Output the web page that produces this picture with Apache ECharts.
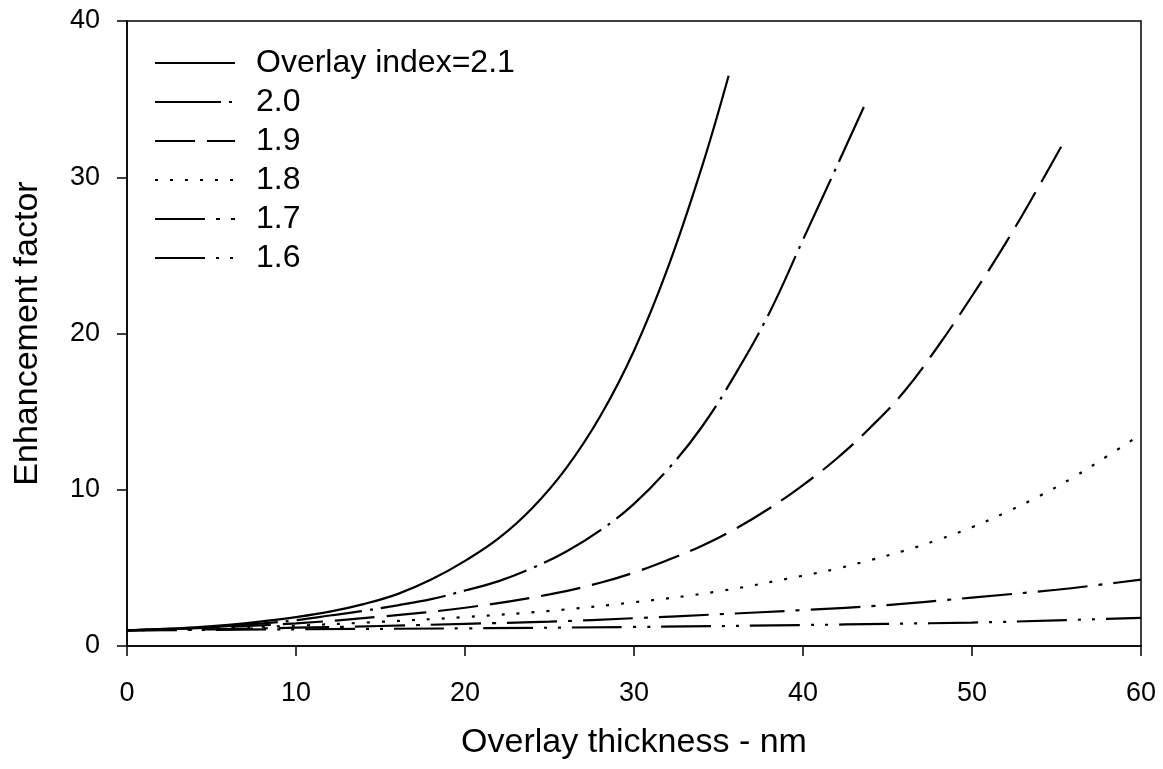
<!DOCTYPE html>
<html>
<head>
<meta charset="utf-8">
<script src="https://cdn.jsdelivr.net/npm/echarts@6/dist/echarts.min.js"></script>
<style>
html,body{margin:0;padding:0;background:#fff;}
#chart{width:1163px;height:769px;}
</style>
</head>
<body>
<div id="chart"></div>
<script>
// ---- data ----
const seriesNames = ['Overlay index=2.1', '2.0', '1.9', '1.8', '1.7', '1.6'];

const x21 = [0, 2, 4, 6, 8, 10, 12, 14, 16, 18, 20, 22, 24, 26, 28, 30, 32, 34, 35.6];
const y21 = [1.0, 1.09, 1.2, 1.36, 1.58, 1.85, 2.2, 2.68, 3.32, 4.25, 5.45, 6.9, 8.85, 11.4, 14.7, 18.9, 24.2, 30.6, 36.5];

const x20 = [0, 4, 8, 10, 12, 14, 16, 18, 20, 22, 24, 26, 28, 30, 32, 34, 36, 38, 40, 42, 43.6];
const y20 = [1.0, 1.15, 1.45, 1.65, 1.95, 2.25, 2.6, 3.0, 3.55, 4.15, 5.0, 6.05, 7.4, 9.1, 11.3, 14.0, 17.4, 21.3, 26.0, 30.7, 34.5];

const x19 = [0, 5, 10, 15, 20, 25, 28, 30, 32, 34, 36, 38, 40, 42, 44, 46, 48, 50, 52, 54, 55.3];
const y19 = [1.0, 1.18, 1.45, 1.88, 2.45, 3.3, 4.05, 4.7, 5.5, 6.4, 7.5, 8.8, 10.3, 12.0, 14.0, 16.3, 19.2, 22.4, 25.8, 29.5, 32.0];

const x18 = [0, 5, 10, 15, 20, 25, 30, 35, 40, 42, 44, 46, 48, 50, 52, 54, 56, 58, 59.5];
const y18 = [1.0, 1.12, 1.3, 1.55, 1.85, 2.25, 2.8, 3.5, 4.5, 4.95, 5.5, 6.1, 6.8, 7.6, 8.55, 9.6, 10.8, 12.15, 13.2];

const x17 = [0, 5, 10, 15, 20, 25, 30, 35, 40, 45, 50, 55, 58, 60];
const y17 = [1.0, 1.07, 1.17, 1.28, 1.42, 1.56, 1.78, 2.03, 2.3, 2.62, 3.1, 3.6, 3.98, 4.25];

const x16 = [0, 10, 20, 30, 40, 45, 50, 55, 60];
const y16 = [1.0, 1.07, 1.13, 1.22, 1.34, 1.42, 1.5, 1.64, 1.8];

const xTicks = [0, 10, 20, 30, 40, 50, 60];
const yTicks = [0, 10, 20, 30, 40];

// ---- styling ----
const dashes = [
  'solid',
  [66, 8, 3, 8],
  [40, 12],
  [3, 12],
  [50, 11, 4, 11],
  [50, 11, 3, 11, 3, 11]
];
const xs = [x21, x20, x19, x18, x17, x16];
const ys = [y21, y20, y19, y18, y17, y16];

function zip(a, b) { return a.map((v, i) => [v, b[i]]); }

const FONT = '"Liberation Sans", Arial, sans-serif';

const series = seriesNames.map((name, i) => ({
  name: name,
  type: 'line',
  data: zip(xs[i], ys[i]),
  showSymbol: false,
  symbol: 'none',
  smooth: 0.4,
  lineStyle: { color: '#000', width: 2.2, type: dashes[i], cap: 'butt' },
  itemStyle: { color: '#000' },
  emphasis: { disabled: true },
  silent: true,
  animation: false
}));

const chart = echarts.init(document.getElementById('chart'), null, { renderer: 'canvas' });
chart.setOption({
  backgroundColor: '#fff',
  animation: false,
  textStyle: { fontFamily: FONT, color: '#000' },
  grid: {
    left: 127, right: 22, top: 21, bottom: 123,
    show: true, borderColor: '#000', borderWidth: 1.5, backgroundColor: 'transparent'
  },
  legend: {
    orient: 'vertical',
    left: 149, top: 42,
    itemWidth: 80, itemHeight: 14, itemGap: 7,
    selectedMode: false,
    data: seriesNames,
    itemStyle: { color: 'rgba(0,0,0,0)', borderWidth: 0, opacity: 0 },
    textStyle: { fontFamily: FONT, fontSize: 32, color: '#000', lineHeight: 32, padding: [0, 0, 0, 16] }
  },
  xAxis: {
    type: 'value', min: 0, max: 60, interval: 10,
    name: 'Overlay thickness - nm', nameLocation: 'middle', nameGap: 80,
    nameTextStyle: { fontFamily: FONT, fontSize: 34, color: '#000' },
    axisLine: { show: true, lineStyle: { color: '#000', width: 1.5 } },
    axisTick: { show: true, inside: false, length: 10, lineStyle: { color: '#000', width: 1.5 } },
    axisLabel: { fontFamily: FONT, fontSize: 27, color: '#000', margin: 34,
      formatter: v => xTicks.includes(v) ? String(v) : '' },
    splitLine: { show: false }
  },
  yAxis: {
    type: 'value', min: 0, max: 40, interval: 10,
    name: 'Enhancement factor', nameLocation: 'middle', nameGap: 82,
    nameTextStyle: { fontFamily: FONT, fontSize: 34, color: '#000' },
    axisLine: { show: true, lineStyle: { color: '#000', width: 1.5 } },
    axisTick: { show: true, inside: false, length: 10, lineStyle: { color: '#000', width: 1.5 } },
    axisLabel: { fontFamily: FONT, fontSize: 27, color: '#000', margin: 27,
      formatter: v => yTicks.includes(v) ? String(v) : '' },
    splitLine: { show: false }
  },
  series: series
});
</script>
</body>
</html>
